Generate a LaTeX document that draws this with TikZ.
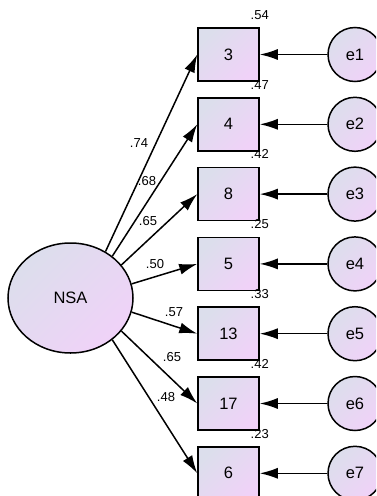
\documentclass[tikz,border=0pt]{standalone}
\usepackage{fontspec}
\setmainfont{Liberation Sans}
\usetikzlibrary{arrows.meta,shapes.geometric}
\definecolor{cA}{RGB}{220,222,236}
\definecolor{cB}{RGB}{240,210,248}
\begin{document}
\begin{tikzpicture}[x=1pt,y=-1pt,
  shadefill/.style={top color=cA,bottom color=cB,shading angle=45},
  obs/.style={rectangle,draw,line width=1.5pt,shadefill,minimum width=61pt,minimum height=53pt,inner sep=0pt,font=\fontsize{16.5}{16.5}\selectfont},
  err/.style={circle,draw,line width=1.5pt,shadefill,minimum size=54pt,inner sep=0pt,font=\fontsize{16.5}{16.5}\selectfont},
  lat/.style={ellipse,draw,line width=1.5pt,shadefill,minimum width=125pt,minimum height=110pt,inner sep=0pt,font=\fontsize{16.5}{16.5}\selectfont},
  coef/.style={inner sep=0pt,font=\fontsize{13}{13}\selectfont},
  arr/.style={line width=1.5pt,-{Latex[length=18pt,width=11pt]}}
]
\useasboundingbox (0,0) rectangle (376,496);
\clip (0,0) rectangle (376,496);
\node[lat] (nsa) at (70.5,298) {NSA};
\foreach \n/\t/\yy in {1/3/54.5,2/4/124.3,3/8/194.1,4/5/263.9,5/13/333.7,6/17/403.5,7/6/473.3}{
  \node[obs] (b\n) at (228.5,\yy) {\t};
  \node[err] (e\n) at (355,\yy) {e\n};
  \draw[arr] (e\n) -- (b\n);
}
\foreach \n/\a in {1/53,2/45,3/33,4/13,5/-13.5,6/-33,7/-45}{
  \draw[arr] (nsa.\a) -- (b\n.west);
}
\foreach \n/\v in {1/.54,2/.47,3/.42,4/.25,5/.33,6/.42,7/.23}{
  \node[coef] (r\n) at ([yshift=12.5pt]b\n.north east) {\v};
}
\node[coef] (l1) at (139,143) {.74};
\node[coef] (l2) at (147,181) {.68};
\node[coef] (l3) at (148,221) {.65};
\node[coef] (l4) at (155,264) {.50};
\node[coef] (l5) at (174,312) {.57};
\node[coef] (l6) at (172,357) {.65};
\node[coef] (l7) at (166,397) {.48};
\end{tikzpicture}
\end{document}
